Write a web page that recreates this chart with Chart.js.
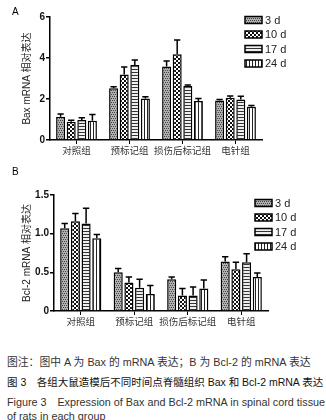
<!DOCTYPE html>
<html>
<head>
<meta charset="utf-8">
<script src="https://cdn.jsdelivr.net/npm/chart.js@4/dist/chart.umd.min.js"></script>
<style>
  body { margin: 0; background: #fff; width: 326px; height: 420px; overflow: hidden; position: relative; }
  canvas { position: absolute; left: 0; }
  #cA { top: 0; }
  #cB { top: 165px; }
  .cap { position: absolute; left: 7px; white-space: nowrap; font-family: "Liberation Sans", "Noto Sans CJK SC", sans-serif; font-size: 10.5px; color: #333; line-height: 12px; }
</style>
</head>
<body>
<canvas id="cA" width="326" height="165"></canvas>
<canvas id="cB" width="326" height="170"></canvas>
<div class="cap" style="top:356px;font-size:10.8px">图注：图中 A 为 Bax 的 mRNA 表达；B 为 Bcl-2 的 mRNA 表达</div>
<div class="cap" style="top:376px;color:#111">图 3　各组大鼠造模后不同时间点脊髓组织 Bax 和 Bcl-2 mRNA 表达</div>
<div class="cap" style="top:396px;font-size:10.8px">Figure 3　Expression of Bax and Bcl-2 mRNA in spinal cord tissue</div>
<div class="cap" style="top:410px;font-size:10.8px">of rats in each group</div>
<script>
// groups and time points
const groups = ['对照组', '预标记组', '损伤后标记组', '电针组'];
const times = ['3 d', '10 d', '17 d', '24 d'];

// Bax mRNA (panel A), mean and upper error per time point
const bax3 = [1.14, 2.52, 3.58, 1.93];
const bax10 = [0.89, 3.20, 4.18, 2.06];
const bax17 = [0.98, 3.66, 2.63, 1.98];
const bax24 = [0.94, 2.03, 1.90, 1.62];
const baxErr3 = [0.13, 0.08, 0.27, 0.04];
const baxErr10 = [0.07, 0.36, 0.70, 0.09];
const baxErr17 = [0.11, 0.24, 0.05, 0.15];
const baxErr24 = [0.31, 0.08, 0.13, 0.06];

// Bcl-2 mRNA (panel B)
const bcl3 = [1.07, 0.50, 0.41, 0.64];
const bcl10 = [1.16, 0.37, 0.20, 0.54];
const bcl17 = [1.13, 0.30, 0.20, 0.63];
const bcl24 = [0.94, 0.22, 0.29, 0.44];
const bclErr3 = [0.06, 0.05, 0.03, 0.06];
const bclErr10 = [0.10, 0.07, 0.09, 0.09];
const bclErr17 = [0.20, 0.11, 0.11, 0.11];
const bclErr24 = [0.05, 0.11, 0.11, 0.05];

const baxTicks = [0, 2, 4, 6];
const bclTicks = [0, 0.5, 1.0, 1.5];

function makePattern(kind) {
  const c = document.createElement('canvas');
  const g = c.getContext('2d');
  if (kind === 'dots') {
    c.width = 4; c.height = 4;
    g.fillStyle = '#b0b0b0'; g.fillRect(0, 0, 4, 4);
    g.fillStyle = '#444';
    g.fillRect(0, 0, 1, 1); g.fillRect(2, 0, 1, 1); g.fillRect(1, 2, 1, 1); g.fillRect(3, 2, 1, 1);
  } else if (kind === 'check') {
    c.width = 4; c.height = 4;
    g.fillStyle = '#fff'; g.fillRect(0, 0, 4, 4);
    g.fillStyle = '#111';
    g.fillRect(0, 0, 2, 2); g.fillRect(2, 2, 2, 2);
  } else if (kind === 'hline') {
    c.width = 3; c.height = 3;
    g.fillStyle = '#eee'; g.fillRect(0, 0, 3, 3);
    g.fillStyle = '#333'; g.fillRect(0, 0, 3, 1);
  } else {
    c.width = 3; c.height = 3;
    g.fillStyle = '#fff'; g.fillRect(0, 0, 3, 3);
    g.fillStyle = '#222'; g.fillRect(0, 0, 1, 3);
  }
  return g.createPattern(c, 'repeat');
}
const fills = [makePattern('dots'), makePattern('check'), makePattern('hline'), makePattern('vline')];

// upper error bars drawn through the y scale
const errorBars = {
  id: 'errorBars',
  afterDatasetsDraw(chart) {
    const ctx = chart.ctx;
    const ys = chart.scales.y;
    ctx.save();
    ctx.strokeStyle = '#000';
    ctx.lineWidth = 1.5;
    chart.data.datasets.forEach((ds, di) => {
      const meta = chart.getDatasetMeta(di);
      meta.data.forEach((bar, i) => {
        const top = ys.getPixelForValue(ds.data[i] + ds.err[i]);
        const cap = bar.width * 0.35;
        ctx.beginPath();
        ctx.moveTo(bar.x, bar.y);
        ctx.lineTo(bar.x, top);
        ctx.moveTo(bar.x - cap, top);
        ctx.lineTo(bar.x + cap, top);
        ctx.stroke();
      });
    });
    ctx.restore();
  }
};

// panel letter and legend boxes
const panelDeco = {
  id: 'panelDeco',
  afterDraw(chart, args, opts) {
    const ctx = chart.ctx;
    ctx.save();
    ctx.fillStyle = '#000';
    ctx.font = '10px "Liberation Sans", Arial, sans-serif';
    ctx.textBaseline = 'middle';
    ctx.fillText(opts.letter, 12, opts.letterY);
    chart.data.datasets.forEach((ds, i) => {
      const y = opts.y + i * 14.5;
      ctx.fillStyle = ds.backgroundColor;
      ctx.fillRect(opts.x, y - 3.5, 17, 7);
      ctx.strokeStyle = '#000';
      ctx.lineWidth = 1.5;
      ctx.strokeRect(opts.x, y - 3.5, 17, 7);
      ctx.fillStyle = '#222';
      ctx.font = '11px "Liberation Sans", Arial, sans-serif';
      ctx.fillText(ds.label, opts.x + 20, y + 0.5);
    });
    ctx.restore();
  }
};

function drawPanel(id, series, errs, ticks, yTitle, pad, yWidth, xHeight, deco, fmt) {
  new Chart(document.getElementById(id), {
    type: 'bar',
    data: {
      labels: groups,
      datasets: series.map((s, i) => ({
        label: times[i],
        data: s,
        err: errs[i],
        backgroundColor: fills[i],
        borderColor: '#000',
        borderWidth: 1.5,
        categoryPercentage: 0.8,
        barPercentage: 0.85
      }))
    },
    options: {
      responsive: false,
      animation: false,
      layout: { padding: pad },
      plugins: { legend: { display: false }, tooltip: { enabled: false }, panelDeco: deco },
      scales: {
        x: {
          afterFit: s => { s.height = xHeight; },
          grid: { display: true, drawOnChartArea: false, offset: false, tickLength: 4, color: '#000', lineWidth: 1 },
          border: { color: '#000', width: 1.5 },
          ticks: { color: '#333', maxRotation: 0, minRotation: 0, autoSkip: false, font: { family: '"Noto Sans CJK SC", sans-serif', size: 9.5 }, padding: 1 }
        },
        y: {
          min: ticks[0],
          max: ticks[ticks.length - 1],
          afterFit: s => { s.width = yWidth; },
          afterBuildTicks: s => { s.ticks = ticks.map(v => ({ value: v })); },
          grid: { display: true, drawOnChartArea: false, tickLength: 4, color: '#000', lineWidth: 1.5 },
          border: { color: '#000', width: 1.5 },
          ticks: { color: '#111', font: { family: '"Liberation Sans", Arial, sans-serif', size: 10, weight: 'bold' }, padding: 1, callback: fmt },
          title: { display: true, text: yTitle, color: '#222', font: { family: '"Liberation Sans", "Noto Sans CJK SC", sans-serif', size: 10 }, padding: { top: 21, bottom: 0 } }
        }
      }
    },
    plugins: [errorBars, panelDeco]
  });
}

drawPanel('cA', [bax3, bax10, bax17, bax24], [baxErr3, baxErr10, baxErr17, baxErr24], baxTicks,
  'Bax mRNA 相对表达', { top: 17, right: 64, left: 0, bottom: 0 }, 50, 25,
  { letter: 'A', letterY: 12, x: 245, y: 20 }, v => String(v));

drawPanel('cB', [bcl3, bcl10, bcl17, bcl24], [bclErr3, bclErr10, bclErr17, bclErr24], bclTicks,
  'Bcl-2 mRNA 相对表达', { top: 30, right: 58, left: 0, bottom: 0 }, 54, 24,
  { letter: 'B', letterY: 7, x: 255, y: 38 }, v => v === 0 ? '0' : v.toFixed(1));
</script>
</body>
</html>
